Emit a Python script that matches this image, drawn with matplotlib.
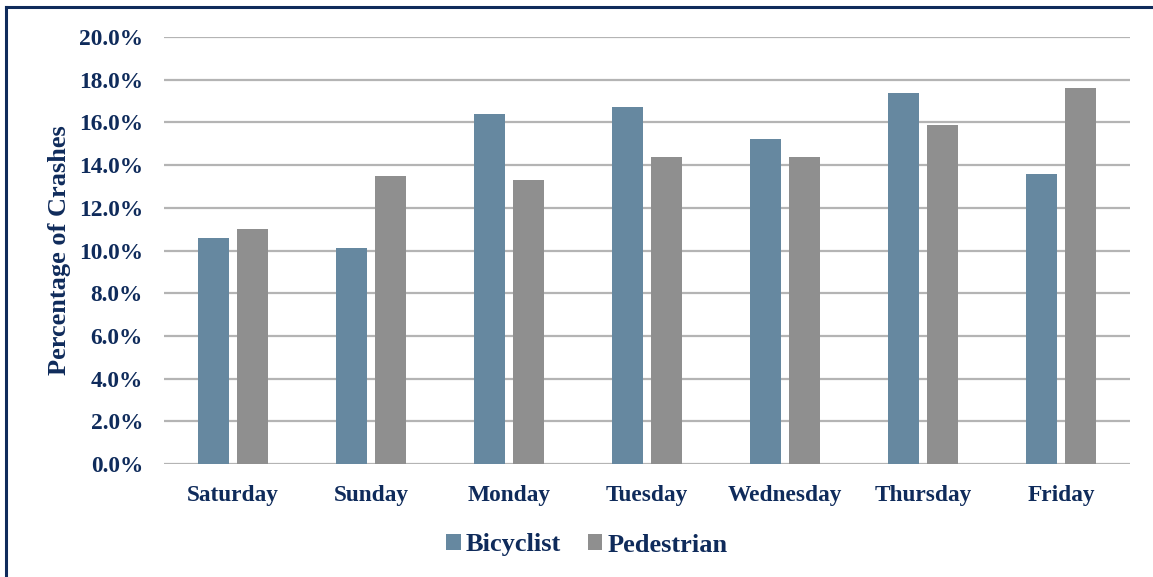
import matplotlib.pyplot as plt
import numpy as np
from matplotlib.lines import Line2D

days = ['Saturday', 'Sunday', 'Monday', 'Tuesday', 'Wednesday', 'Thursday', 'Friday']
bicyclist = [10.6, 10.1, 16.4, 16.7, 15.2, 17.4, 13.6]
pedestrian = [11.0, 13.5, 13.3, 14.4, 14.4, 15.9, 17.6]

navy = '#0F2B5B'
blue = '#6688A0'
gray = '#8F8F8F'

plt.rcParams['font.family'] = 'Liberation Serif'
plt.rcParams['font.weight'] = 'bold'

fig = plt.figure(figsize=(11.53, 5.77), dpi=100)
ax = fig.add_axes([0.1422, 0.1958, 0.8378, 0.7401])

x = np.arange(len(days))
w = 0.225
ax.bar(x - 0.14, bicyclist, w, color=blue, label='Bicyclist', zorder=3)
ax.bar(x + 0.14, pedestrian, w, color=gray, label='Pedestrian', zorder=3)

ax.set_xlim(-0.5, len(days) - 0.5)
ax.set_ylim(0, 20)
ax.set_yticks(np.arange(0, 21, 2))
ax.set_yticklabels(['%.1f%%' % v for v in np.arange(0, 21, 2)])
ax.set_xticks(x)
ax.set_xticklabels(days)
ax.yaxis.grid(True, color='#B4B4B4', linewidth=1.6, zorder=0)
ax.set_axisbelow(True)
for s in ax.spines.values():
    s.set_visible(False)
ax.tick_params(axis='both', length=0, colors=navy, labelsize=16.8)
ax.tick_params(axis='y', pad=15)
ax.tick_params(axis='x', pad=15)
for lbl in ax.get_xticklabels() + ax.get_yticklabels():
    lbl.set_fontweight('bold')

ax.set_ylabel('Percentage of Crashes', fontsize=19, color=navy, fontweight='bold')
ax.yaxis.set_label_coords(-0.096, 0.5)

fig.legend(loc='center', bbox_to_anchor=(587 / 1153, 1 - 545 / 577), ncol=2,
           frameon=False, prop={'size': 19, 'weight': 'bold'}, labelcolor=navy,
           handlelength=0.55, handleheight=0.55, handletextpad=0.2, columnspacing=1.0)

# frame edges on the left and top
fig.add_artist(Line2D([6 / 1153, 6 / 1153], [0, 1 - 7 / 577], color=navy, linewidth=2.2))
fig.add_artist(Line2D([6 / 1153, 1], [1 - 7 / 577, 1 - 7 / 577], color=navy, linewidth=2.2))

fig.savefig('out.png', dpi=100)
